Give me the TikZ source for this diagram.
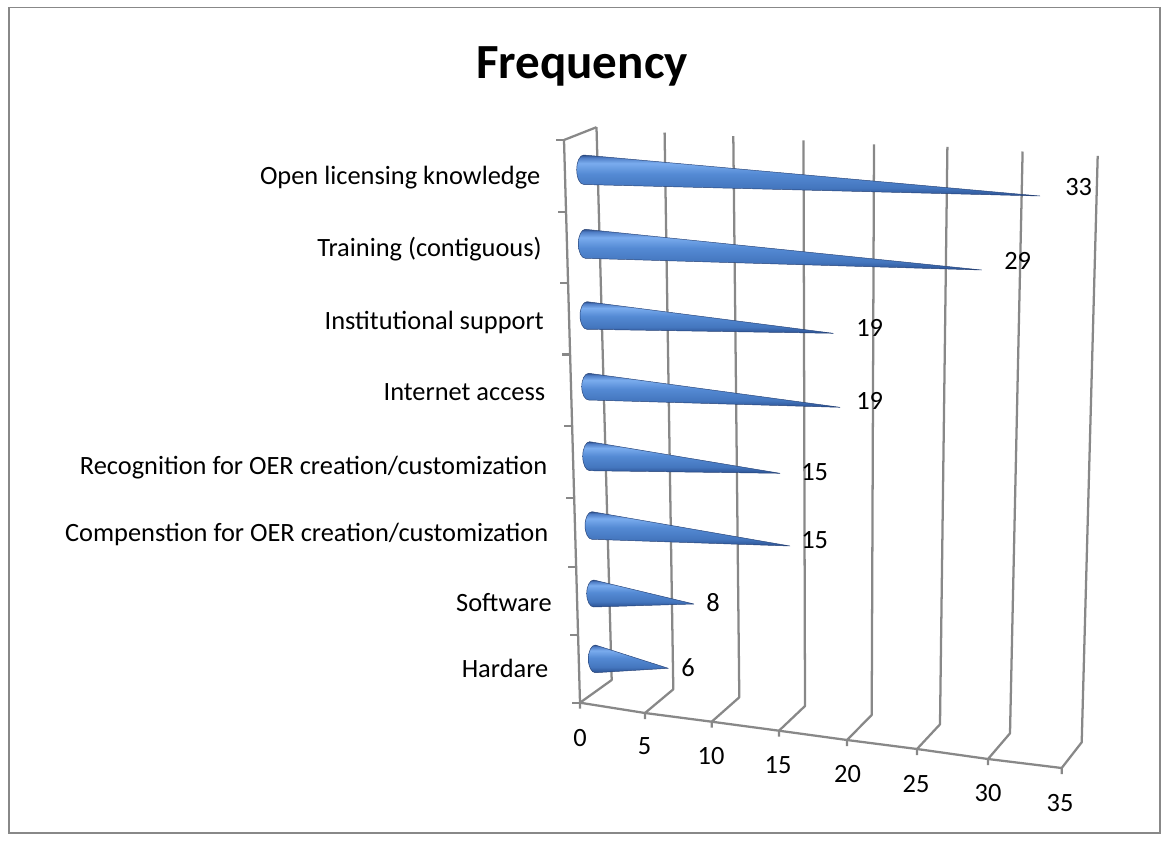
\documentclass[tikz,border=0pt]{standalone}
\usepackage{fontspec}
\setmainfont{Carlito}
\definecolor{gridgray}{RGB}{136,136,136}
\definecolor{coneA}{RGB}{42,80,145}
\definecolor{coneB}{RGB}{68,118,190}
\definecolor{coneC}{RGB}{84,138,212}
\definecolor{coneD}{RGB}{122,172,238}
\definecolor{coneE}{RGB}{78,124,196}
\definecolor{coneF}{RGB}{44,78,138}
\definecolor{coneedge}{RGB}{38,66,118}
\pgfdeclareverticalshading{coneshade}{100bp}{color(0bp)=(coneA); color(25bp)=(coneA); color(35bp)=(coneB); color(52bp)=(coneC); color(65bp)=(coneD); color(72bp)=(coneE); color(75bp)=(coneF); color(100bp)=(coneF)}
\tikzset{
  gridln/.style={draw=gridgray, line width=1.7pt, line join=round},
  framebox/.style={draw=gridgray, line width=1.2pt},
  conebody/.style={shading=coneshade, draw=coneedge, line width=0.35pt, line join=round},
  txt/.style={inner sep=0pt, font=\fontsize{19.8}{22}\selectfont, text height=0.9em, text depth=0.25em, yshift=-3pt},
  catlabel/.style={txt, anchor=east},
  vallabel/.style={txt, anchor=west},
  axlabel/.style={txt},
  titlelabel/.style={inner sep=0pt, font=\bfseries\fontsize{36.8}{40}\selectfont, text height=0.9em, text depth=0.25em}
}
% name, left x, top y, bottom y, tip x, tip y
\newcommand\drawcone[6]{%
  \pgfmathsetmacro\conecx{#2+7}%
  \pgfmathsetmacro\conecy{(#3+#4)/2}%
  \pgfmathsetmacro\conerr{(#4-#3)/2}%
  \coordinate (#1tip) at (#5,#6);
  \coordinate (#1base) at (\conecx,\conecy);
  \shade[conebody] (\conecx,#3) -- (#1tip) -- (\conecx,#4)
     arc[start angle=90, end angle=270, x radius=7, y radius=\conerr] -- cycle;
}
\begin{document}
\begin{tikzpicture}[x=0.75pt, y=-0.75pt]
\useasboundingbox (0,0) rectangle (1165,840);
\draw[framebox] (8.7,7.3) rectangle (1160,833);

\node[titlelabel] (title) at (582,74) {Frequency};

% back wall tops
\coordinate (T0) at (596.5,127.2);
\coordinate (T5) at (664.6,132.5);
\coordinate (T10) at (733.3,136.1);
\coordinate (T15) at (803.5,140.4);
\coordinate (T20) at (874,144.3);
\coordinate (T25) at (947.4,146.9);
\coordinate (T30) at (1022.6,151.5);
\coordinate (T35) at (1097.7,155.8);
% back wall bottoms
\coordinate (B0) at (611.7,680);
\coordinate (B5) at (673.3,689.3);
\coordinate (B10) at (739.3,697.3);
\coordinate (B15) at (805,706);
\coordinate (B20) at (871.7,715);
\coordinate (B25) at (940,724.3);
\coordinate (B30) at (1010,733.3);
\coordinate (B35) at (1081.7,742.3);
% front axis
\coordinate (F0) at (580,702.7);
\coordinate (F5) at (645,713);
\coordinate (F10) at (711.7,721.7);
\coordinate (F15) at (779,730.7);
\coordinate (F20) at (847,740);
\coordinate (F25) at (917,749);
\coordinate (F30) at (988,759);
\coordinate (F35) at (1061.7,768);
\coordinate (LT) at (564,140);

% gridlines
\foreach \v in {0,5,10,15,20,25,30,35}{
  \draw[gridln] (T\v) -- (B\v) -- (F\v) -- ++(0,6);
}
\draw[gridln] (F0) -- (F5) -- (F10) -- (F15) -- (F20) -- (F25) -- (F30) -- (F35);
\draw[gridln] (T0) -- (LT) -- (F0);
\foreach \ty in {140,211.7,283,354.5,426,498.3,566.7,635,702.7}{
  \draw[gridln] ({564+16*(\ty-140)/562.7},\ty) -- ++(-8,0);
}

% axis numbers
\node[axlabel] (n0) at (580,738) {0};
\node[axlabel] (n5) at (644.5,746) {5};
\node[axlabel] (n10) at (711,756) {10};
\node[axlabel] (n15) at (778,765) {15};
\node[axlabel] (n20) at (847.5,774.5) {20};
\node[axlabel] (n25) at (916,784) {25};
\node[axlabel] (n30) at (988,793) {30};
\node[axlabel] (n35) at (1060,802.7) {35};

% cones
\drawcone{c1}{576.7}{155}{184.5}{1040}{196}
\drawcone{c2}{578.3}{229.3}{258.3}{981.7}{270}
\drawcone{c3}{580}{301.7}{329.3}{833.3}{333.3}
\drawcone{c4}{581.7}{373.3}{400}{840}{407.3}
\drawcone{c5}{582.7}{441.7}{470.7}{780}{473.3}
\drawcone{c6}{585}{511.7}{539.3}{790}{546}
\drawcone{c7}{586.7}{580}{607}{694}{604}
\drawcone{c8}{588.3}{645}{672.7}{668.3}{668.3}

% category labels
\node[catlabel] (l1) at (540.5,176) {Open licensing knowledge};
\node[catlabel] (l2) at (542,248) {Training (contiguous)};
\node[catlabel] (l3) at (544,321) {Institutional support};
\node[catlabel] (l4) at (545.5,392) {Internet access};
\node[catlabel] (l5) at (547.5,466) {Recognition for OER creation/customization};
\node[catlabel] (l6) at (548.5,533) {Compenstion for OER creation/customization};
\node[catlabel] (l7) at (552,603) {Software};
\node[catlabel] (l8) at (548.5,669) {Hardare};

% value labels
\node[vallabel] (v1) at (1065,187) {33};
\node[vallabel] (v2) at (1004,261) {29};
\node[vallabel] (v3) at (856,328) {19};
\node[vallabel] (v4) at (856,401) {19};
\node[vallabel] (v5) at (801,472) {15};
\node[vallabel] (v6) at (801,540) {15};
\node[vallabel] (v7) at (706,603) {8};
\node[vallabel] (v8) at (681,668) {6};
\end{tikzpicture}
\end{document}
